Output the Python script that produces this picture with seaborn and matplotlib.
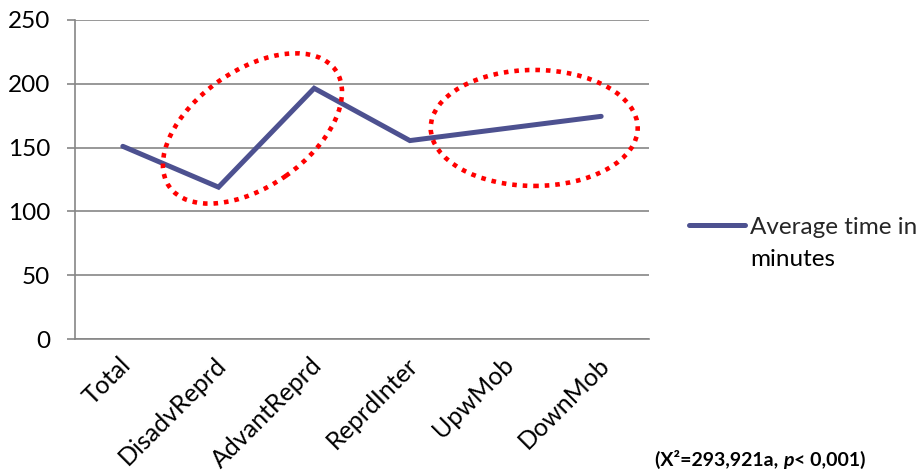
import matplotlib
matplotlib.use("Agg")
import matplotlib.pyplot as plt
from matplotlib.patches import Ellipse
from matplotlib.transforms import ScaledTranslation
import pandas as pd
import seaborn as sns

# --- data -------------------------------------------------------------
categories = ["Total", "DisadvReprd", "AdvantReprd", "ReprdInter", "UpwMob", "DownMob"]
avg_minutes = [151, 119, 196.5, 155.5, 165, 174.5]
y_ticks = [0, 50, 100, 150, 200, 250]
legend_lines = ["Average time in", "minutes"]
stat_note = ["(X\u00b2=293,921a, ", "p", "< 0,001)"]

# highlighted groups: centre (category position, minutes), size (in), tilt (deg)
highlights = [
    ((1.355, 165.0), (2.03, 1.16), 35.0),
    ((4.30, 165.4), (2.07, 1.16), 0.0),
]

# --- style ------------------------------------------------------------
sns.set_theme(style="white")
plt.rcParams["font.family"] = ["Lato", "DejaVu Sans"]

LINE = "#4D5190"
GRID = "#868686"
RED = "#FF0000"
FS = 17.5
FS_X = 18

fig = plt.figure(figsize=(9.18, 4.75), dpi=100)
ax = fig.add_axes([75 / 918, 1 - 339 / 475, (649 - 75) / 918, (339 - 20) / 475])

df = pd.DataFrame({"group": categories, "minutes": avg_minutes})
sns.lineplot(data=df, x="group", y="minutes", sort=False, color=LINE,
             linewidth=3.6, solid_capstyle="round", solid_joinstyle="miter",
             ax=ax, label=legend_lines[0], zorder=3)

ax.set_xlim(-0.5, len(categories) - 0.5)
ax.set_ylim(y_ticks[0], y_ticks[-1])
ax.set_yticks(y_ticks)
ax.set_xlabel("")
ax.set_ylabel("")

ax.yaxis.grid(True, color=GRID, linewidth=1.2)
ax.xaxis.grid(False)
ax.set_axisbelow(True)
for side in ("top", "right"):
    ax.spines[side].set_visible(False)
for side in ("left", "bottom"):
    ax.spines[side].set_color(GRID)
    ax.spines[side].set_linewidth(1.2)

# category boundary ticks on the x axis, labels at category centres
ax.set_xticks([i - 0.5 for i in range(len(categories) + 1)], minor=True)
ax.tick_params(axis="x", which="minor", length=5, width=1.2, color=GRID, direction="out")
ax.tick_params(axis="x", which="major", length=0, pad=10, labelsize=FS_X, labelcolor="black")
ax.set_xticks(range(len(categories)))
ax.set_xticklabels(categories, rotation=45, ha="right", va="top", rotation_mode="anchor")
shift = ScaledTranslation(-4 / 100, 0, fig.dpi_scale_trans)
for lab in ax.get_xticklabels():
    lab.set_transform(lab.get_transform() + shift)
ax.tick_params(axis="y", length=6, width=1.2, color=GRID, pad=12, labelsize=FS,
               labelcolor="black", direction="out", left=True)

# dotted red ellipses around the highlighted groups
for (cx, cy), (w, h), ang in highlights:
    tr = fig.dpi_scale_trans + ScaledTranslation(cx, cy, ax.transData)
    ax.add_patch(Ellipse((0, 0), w, h, angle=ang, transform=tr, fill=False,
                         edgecolor=RED, linewidth=3.3, linestyle=(0, (1, 1.3)),
                         capstyle="butt", zorder=4, clip_on=False))

# legend (handle on the first line of the label)
leg = ax.legend(loc="center left", bbox_to_anchor=(689 / 918, 1 - 227 / 475),
                bbox_transform=fig.transFigure, frameon=False, borderpad=0,
                borderaxespad=0, handlelength=2.3, handletextpad=0.2,
                fontsize=FS)
leg.get_lines()[0].set_solid_capstyle("round")
ax.annotate(legend_lines[1], xy=(0, 0), xycoords=leg.get_texts()[0],
            xytext=(0, -8), textcoords="offset points", ha="left", va="top",
            fontsize=FS, color="black", zorder=10)

# test statistic note
t1 = fig.text(655 / 918, 1 - 466 / 475, stat_note[0], fontsize=14,
              fontweight="bold", color="black", va="baseline", ha="left")
t2 = ax.annotate(stat_note[1], xy=(1, 0), xycoords=t1, fontsize=14,
                 fontweight="bold", fontstyle="italic", color="black",
                 ha="left", va="bottom", zorder=10)
ax.annotate(stat_note[2], xy=(1, 0), xycoords=t2, fontsize=14,
            fontweight="bold", color="black", ha="left", va="bottom", zorder=10)

fig.savefig("out.png", dpi=100, facecolor="white")
